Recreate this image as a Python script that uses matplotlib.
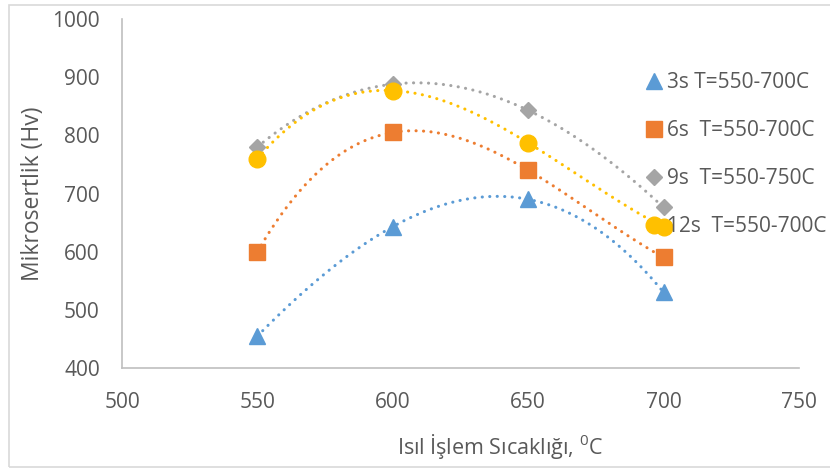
import matplotlib
matplotlib.use('Agg')
import matplotlib.pyplot as plt
import numpy as np
from matplotlib.patches import Rectangle

plt.rcParams['font.family'] = ['Open Sans', 'DejaVu Sans']
plt.rcParams['mathtext.fontset'] = 'custom'
plt.rcParams['mathtext.rm'] = 'Open Sans'

# sicaklik (C) ve mikrosertlik (Hv) olcumleri
sicaklik = [550, 600, 650, 700]
hv_3s = [455, 643, 690, 530]
hv_6s = [600, 805, 740, 590]
hv_9s = [780, 888, 843, 676]
hv_12s = [760, 877, 787, 642]

etiketler = ['3s T=550-700C', '6s  T=550-700C', '9s  T=550-750C', '12s  T=550-700C']
renkler = ['#5B9BD5', '#ED7D31', '#A5A5A5', '#FFC000']
isaretler = ['^', 's', 'D', 'o']
boyutlar = [11, 11, 8.5, 12]

fig = plt.figure(figsize=(8.3, 4.68), dpi=100)
ax = fig.add_axes([122/830, 100/468, 677/830, 349/468])

seriler = [hv_3s, hv_6s, hv_9s, hv_12s]
handles = []
for y, lab, c, m, ms in zip(seriler, etiketler, renkler, isaretler, boyutlar):
    # 3. derece polinom egilim cizgisi
    katsayi = np.polyfit(sicaklik, y, 3)
    xs = np.linspace(min(sicaklik), max(sicaklik), 200)
    ax.plot(xs, np.polyval(katsayi, xs), color=c, lw=2.2,
            linestyle=(0, (0.05, 2.4)), dash_capstyle='round', zorder=2)
    h, = ax.plot(sicaklik, y, linestyle='none', marker=m, ms=ms, color=c,
                 mec=c, label=lab, zorder=3)
    handles.append(h)

ax.set_xlim(500, 750)
ax.set_ylim(400, 1000)
ax.set_xticks(range(500, 751, 50))
ax.set_yticks(range(400, 1001, 100))
ax.tick_params(length=0, labelsize=15, colors='#595959')
ax.tick_params(axis='y', pad=16)
ax.tick_params(axis='x', pad=17)
for s in ['top', 'right']:
    ax.spines[s].set_visible(False)
for s in ['left', 'bottom']:
    ax.spines[s].set_color('#BFBFBF')
    ax.spines[s].set_linewidth(1.2)

ax.set_ylabel('Mikrosertlik (Hv)', fontsize=16.5, color='#595959', labelpad=5)
ax.set_xlabel(r'Isıl İşlem Sıcaklığı, $^{0}$C', fontsize=15.5, color='#595959')
ax.xaxis.set_label_coords(0.558, -0.183)

leg = ax.legend(handles=handles, loc='upper left', bbox_to_anchor=(646/830, 396/468),
                bbox_transform=fig.transFigure, frameon=False, fontsize=15,
                handlelength=0.8, handletextpad=0.2, labelspacing=1.3,
                borderpad=0, borderaxespad=0, numpoints=1, labelcolor='#595959')
leg.set_zorder(5)

fig.patches.append(Rectangle((9/830, 1/468), 1.0, 462/468, transform=fig.transFigure,
                             fill=False, edgecolor='#D9D9D9', lw=1.2))

fig.savefig('out.png', dpi=100)
